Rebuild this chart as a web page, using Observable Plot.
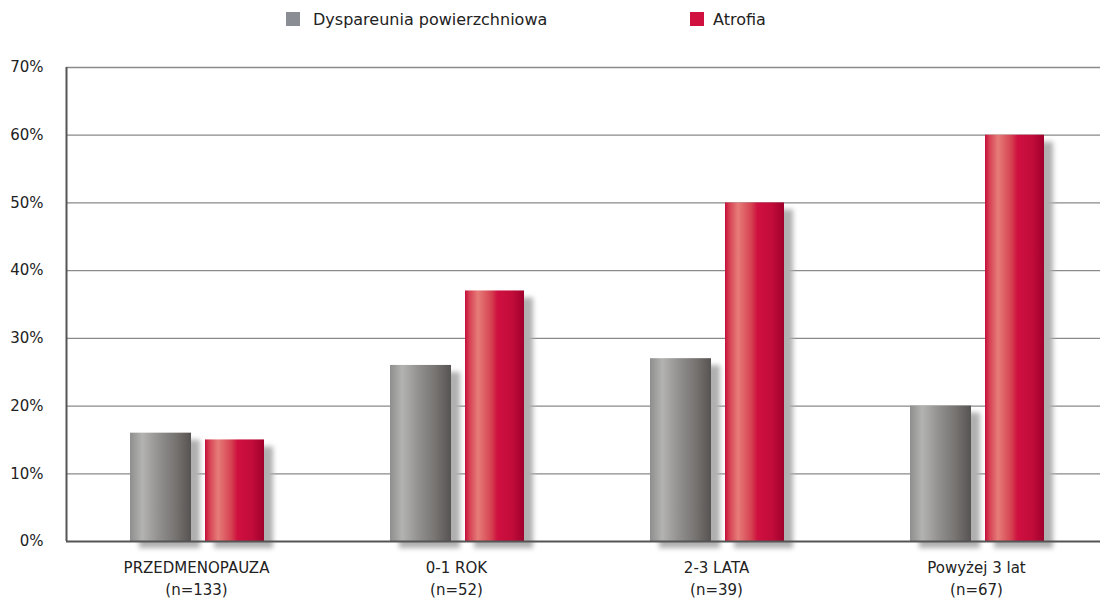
<!DOCTYPE html>
<html>
<head>
<meta charset="utf-8">
<script src="https://cdn.jsdelivr.net/npm/d3@7"></script>
<script src="https://cdn.jsdelivr.net/npm/@observablehq/plot@0.6"></script>
<style>
  html, body { margin: 0; padding: 0; background: #fff; overflow: hidden; }
  #wrap { width: 1100px; height: 598px; position: relative; font-family: "DejaVu Sans", sans-serif; }
  #legend { position: relative; height: 40px; }
  .sw { position: absolute; top: 12px; width: 14px; height: 14px; }
  .lt { position: absolute; top: 10px; font-size: 16px; color: #222; line-height: 20px; }
  svg { display: block; }
</style>
</head>
<body>
<div id="wrap">
  <div id="legend"></div>
  <div id="chart"></div>
</div>
<script>
const categories = ["PRZEDMENOPAUZA\n(n=133)", "0-1 ROK\n(n=52)", "2-3 LATA\n(n=39)", "Powyżej 3 lat\n(n=67)"];
const seriesNames = ["Dyspareunia powierzchniowa", "Atrofia"];
const dyspareunia = [16, 26, 27, 20];
const atrofia = [15, 37, 50, 60];
const yTicks = [0, 10, 20, 30, 40, 50, 60, 70];

const dysData = categories.map((c, i) => ({cat: c, v: dyspareunia[i]}));
const atrData = categories.map((c, i) => ({cat: c, v: atrofia[i]}));

// legend
const legend = document.getElementById("legend");
[[seriesNames[0], "#8a8d93", 286, 313], [seriesNames[1], "#d0103f", 690, 713]].forEach(([name, col, sx, tx]) => {
  const s = document.createElement("div");
  s.className = "sw"; s.style.left = sx + "px"; s.style.background = col;
  legend.appendChild(s);
  const t = document.createElement("div");
  t.className = "lt"; t.style.left = tx + "px"; t.textContent = name;
  legend.appendChild(t);
});

const W = 1100, H = 558, ML = 66, MT = 27, MB = 57;
const greyIn = {insetLeft: 64, insetRight: 135};
const redIn = {insetLeft: 139, insetRight: 62};

const chart = Plot.plot({
  width: W,
  height: H,
  marginLeft: ML,
  marginRight: 0,
  marginTop: MT,
  marginBottom: MB,
  style: {fontFamily: "'DejaVu Sans', sans-serif", fontSize: "15px", color: "#222", background: "#fff"},
  x: {domain: categories, range: [ML, ML + 1040], padding: 0},
  y: {domain: [0, 70], range: [H - MB, MT]},
  marks: [
    Plot.ruleY(yTicks.filter(d => d > 0), {stroke: "#8a8a8a", strokeWidth: 1.3}),
    Plot.barY(dysData, {x: "cat", y: "v", fill: "#b0b0b0", dx: 9, dy: 7, ...greyIn, ariaLabel: "shadow"}),
    Plot.barY(atrData, {x: "cat", y: "v", fill: "#b0b0b0", dx: 9, dy: 7, ...redIn, ariaLabel: "shadow"}),
    Plot.barY(dysData, {x: "cat", y: "v", fill: "url(#gradGrey)", ...greyIn}),
    Plot.barY(atrData, {x: "cat", y: "v", fill: "url(#gradRed)", ...redIn}),
    Plot.ruleY([0], {stroke: "#555", strokeWidth: 2}),
    Plot.ruleX([0], {x: () => categories[0], dx: -130, y1: 0, y2: 70, stroke: "#555", strokeWidth: 2}),
    Plot.axisY({ticks: yTicks, tickFormat: d => d + "%", tickSize: 0, tickPadding: 23, fontSize: 15, fill: "#222", label: null}),
    Plot.axisX({tickSize: 0, tickPadding: 16, fontSize: 15, lineHeight: 1.45, fill: "#222", label: null})
  ]
});

const svg = d3.select(chart);
const defs = svg.insert("defs", ":first-child");
const gg = defs.append("linearGradient").attr("id", "gradGrey").attr("x1", 0).attr("x2", 1).attr("y1", 0).attr("y2", 0);
[[0, "#8e8e8e"], [0.2, "#b3b3b1"], [0.45, "#949392"], [0.75, "#767371"], [1, "#575352"]].forEach(([o, c]) =>
  gg.append("stop").attr("offset", o).attr("stop-color", c));
const gr = defs.append("linearGradient").attr("id", "gradRed").attr("x1", 0).attr("x2", 1).attr("y1", 0).attr("y2", 0);
[[0, "#c40e3a"], [0.07, "#d63e52"], [0.22, "#e67c78"], [0.45, "#d54050"], [0.55, "#cf1040"], [0.8, "#c20c3a"], [1, "#a0002c"]].forEach(([o, c]) =>
  gr.append("stop").attr("offset", o).attr("stop-color", c));
const f = defs.append("filter").attr("id", "blur").attr("x", "-30%").attr("y", "-10%").attr("width", "160%").attr("height", "120%");
f.append("feGaussianBlur").attr("stdDeviation", 2.5);

let shadowGroups = svg.selectAll('g[aria-label="shadow"]');
if (shadowGroups.empty()) {
  shadowGroups = svg.selectAll('g[aria-label="bar"]').filter((d, i) => i < 2);
}
shadowGroups.attr("filter", "url(#blur)");

document.getElementById("chart").appendChild(chart);
</script>
</body>
</html>
